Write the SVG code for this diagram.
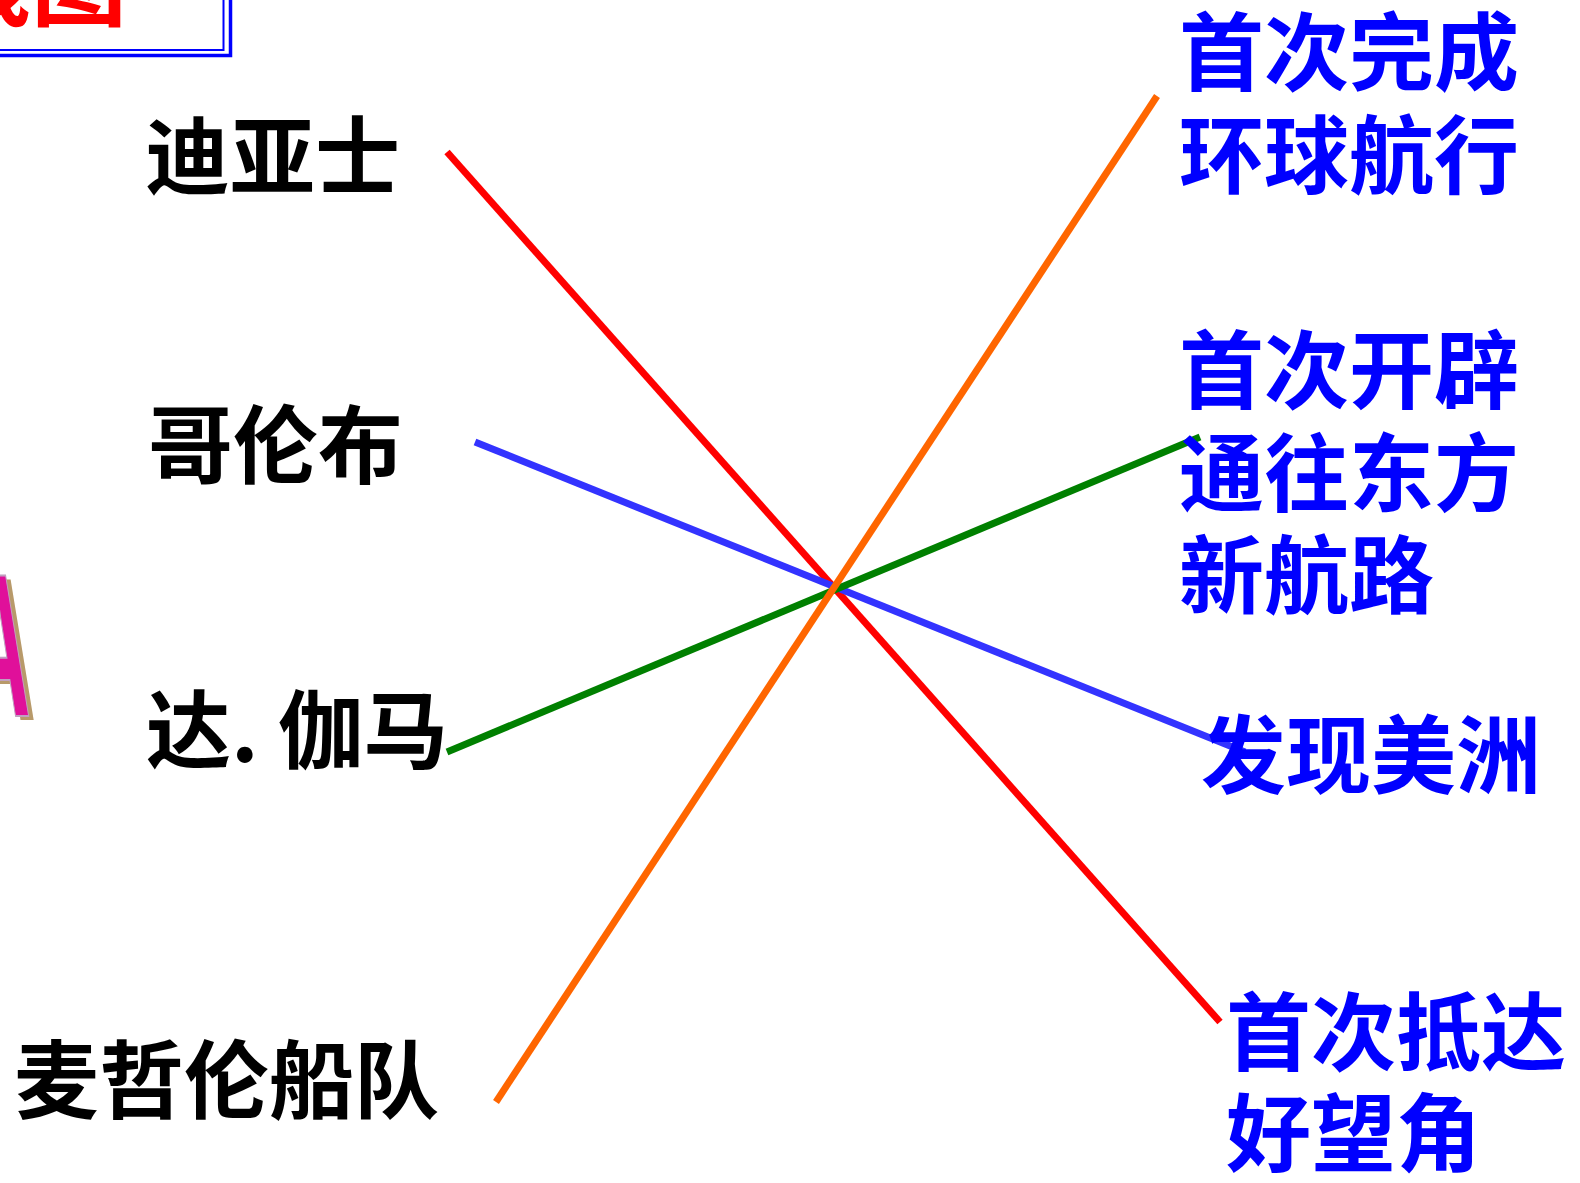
<svg xmlns="http://www.w3.org/2000/svg" width="1580" height="1183" viewBox="0 0 1580 1183">
<style>
.l{font-family:"Noto Sans CJK SC","Noto Sans",sans-serif;font-weight:bold;font-size:85px;fill:#000}
.r{font-family:"Noto Sans CJK SC","Noto Sans",sans-serif;font-weight:bold;font-size:85px;fill:#0000ff}
.c{stroke-width:7;fill:none;stroke-linecap:butt}
</style>
<rect width="1580" height="1183" fill="#fff"/>
<g id="title">
<rect x="-10" y="-10" width="240.5" height="65.5" fill="none" stroke="#0000ff" stroke-width="3.5"/>
<rect x="-10" y="-10" width="233.5" height="60" fill="none" stroke="#0000ff" stroke-width="2"/>
<text x="127" y="18" text-anchor="end" font-family="Noto Sans CJK SC,sans-serif" font-weight="bold" font-size="96" fill="#ff0000">路线图</text>
</g>
<g id="side">
<text transform="translate(36,720) scale(0.45,1)" text-anchor="end" font-family="Liberation Sans,sans-serif" font-weight="bold" font-size="205" fill="#b89a6a">A</text>
<text transform="translate(31,716) scale(0.45,1)" text-anchor="end" font-family="Liberation Sans,sans-serif" font-weight="bold" font-size="205" fill="#e0109a" stroke="#c0a0c0" stroke-width="2">A</text>
</g>
<g id="connectors">
<line class="c" x1="447" y1="152" x2="1220" y2="1022" stroke="#ff0000"/>
<line class="c" x1="475" y1="442" x2="1245" y2="752" stroke="#3333ff"/>
<line class="c" x1="447" y1="752" x2="1200" y2="437" stroke="#008000"/>
<line class="c" x1="1157" y1="96" x2="496" y2="1102" stroke="#ff6600"/>
</g>
<g id="n-dias"><text class="l" x="145" y="188">迪亚士</text></g>
<g id="n-columbus"><text class="l" x="148" y="477">哥伦布</text></g>
<g id="n-gama"><text class="l" x="146" y="762">达. 伽马</text></g>
<g id="n-magellan"><text class="l" x="14" y="1112">麦哲伦船队</text></g>
<g id="n-circum"><text class="r" x="1179" y="84">首次完成</text><text class="r" x="1179" y="187">环球航行</text></g>
<g id="n-east"><text class="r" x="1179" y="402">首次开辟</text><text class="r" x="1179" y="505">通往东方</text><text class="r" x="1179" y="607">新航路</text></g>
<g id="n-america"><text class="r" x="1201" y="787">发现美洲</text></g>
<g id="n-cape"><text class="r" x="1226" y="1064">首次抵达</text><text class="r" x="1226" y="1165">好望角</text></g>
</svg>
